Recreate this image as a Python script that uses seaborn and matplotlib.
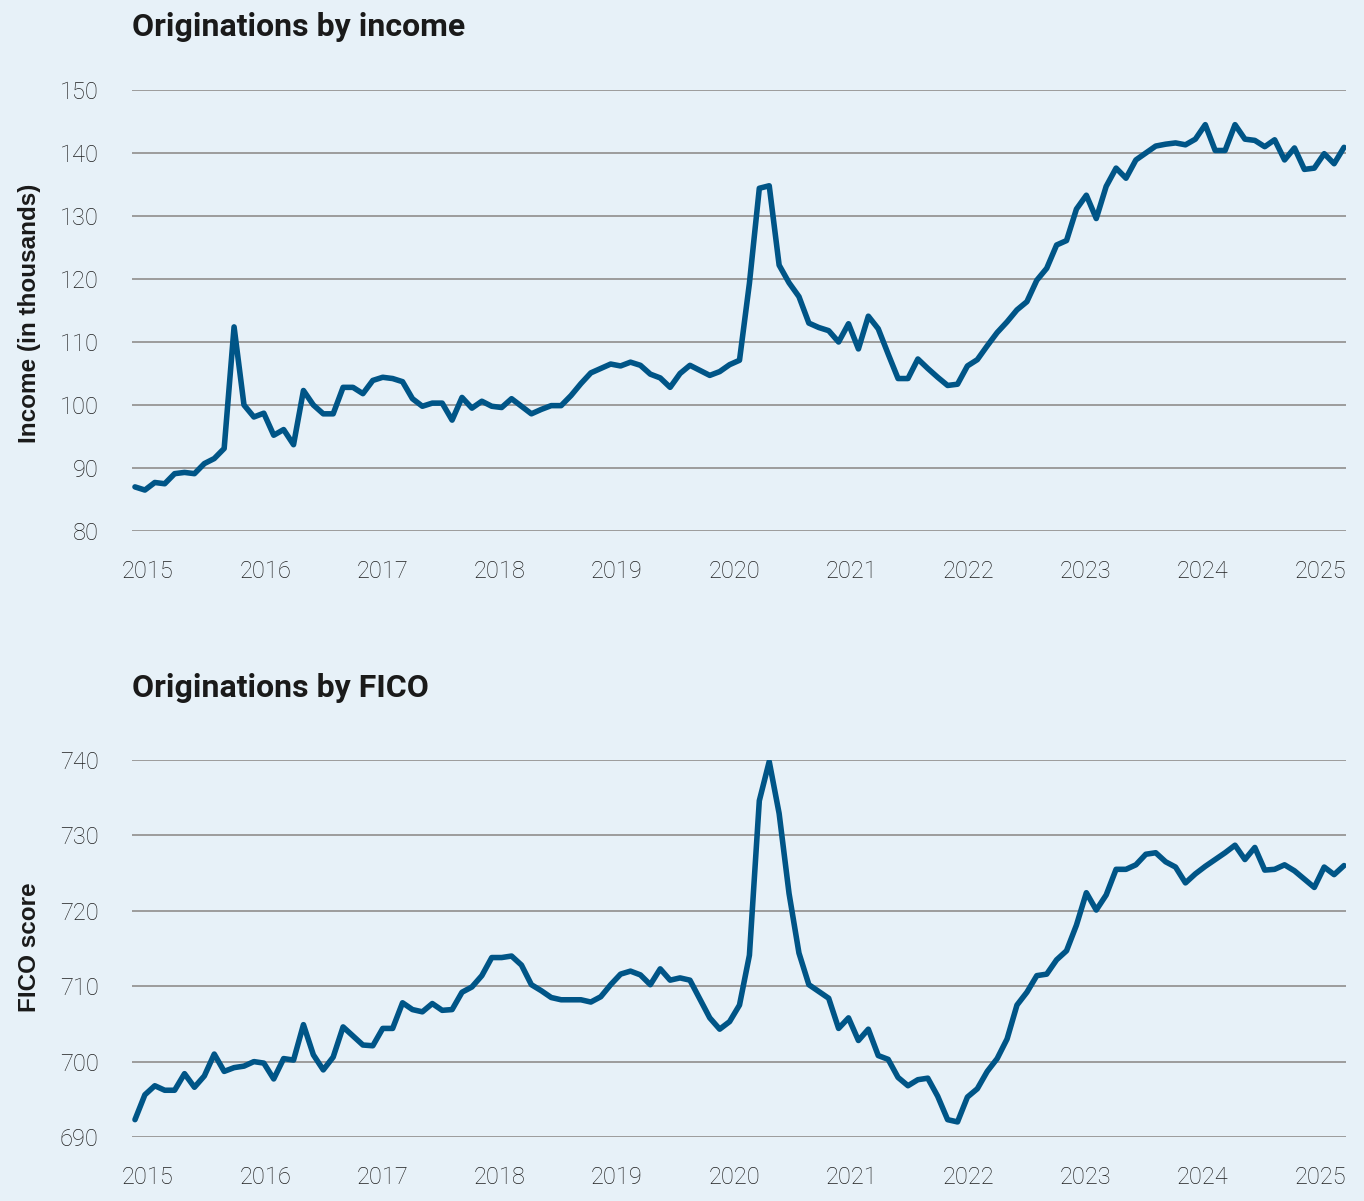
import numpy as np
import pandas as pd
import matplotlib
matplotlib.use("Agg")
import matplotlib.pyplot as plt
import seaborn as sns

# ---- data (monthly, Jan 2015 - Mar 2025) ----
income = [87.0, 86.5, 87.7, 87.5, 89.1, 89.3, 89.1, 90.7, 91.5, 93.1,
          112.4, 100.0, 98.1, 98.7, 95.2, 96.1, 93.7, 102.3, 100.0, 98.6,
          98.6, 102.8, 102.8, 101.8, 103.9, 104.4, 104.2, 103.7, 101.0, 99.8,
          100.3, 100.3, 97.6, 101.2, 99.5, 100.6, 99.8, 99.6, 101.0, 99.8,
          98.6, 99.3, 99.9, 99.9, 101.5, 103.4, 105.1, 105.8, 106.5, 106.2,
          106.8, 106.3, 104.9, 104.3, 102.8, 105.0, 106.3, 105.5, 104.7, 105.3,
          106.4, 107.1, 119.3, 134.4, 134.8, 122.2, 119.4, 117.2, 113.0, 112.3,
          111.8, 110.0, 112.9, 108.9, 114.1, 112.1, 108.1, 104.2, 104.2, 107.3,
          105.8, 104.4, 103.1, 103.3, 106.2, 107.2, 109.4, 111.5, 113.2, 115.1,
          116.4, 119.8, 121.7, 125.4, 126.1, 131.1, 133.3, 129.6, 134.7, 137.6,
          136.0, 138.9, 140.0, 141.1, 141.4, 141.6, 141.3, 142.2, 144.5, 140.4,
          140.4, 144.5, 142.2, 142.0, 141.0, 142.1, 138.9, 140.8, 137.4, 137.6,
          139.9, 138.3, 140.9]

fico = [692.3, 695.6, 696.8, 696.2, 696.2, 698.4, 696.6, 698.1, 701.0, 698.7,
        699.2, 699.4, 700.0, 699.8, 697.7, 700.4, 700.2, 704.9, 700.9, 698.9,
        700.6, 704.6, 703.4, 702.2, 702.1, 704.4, 704.4, 707.8, 706.9, 706.6,
        707.7, 706.8, 706.9, 709.2, 709.9, 711.4, 713.8, 713.8, 714.0, 712.8,
        710.2, 709.4, 708.5, 708.2, 708.2, 708.2, 707.9, 708.6, 710.2, 711.6,
        712.0, 711.5, 710.2, 712.3, 710.8, 711.1, 710.8, 708.3, 705.8, 704.3,
        705.3, 707.5, 714.1, 734.6, 739.8, 732.9, 722.3, 714.4, 710.2, 709.3,
        708.4, 704.4, 705.8, 702.8, 704.3, 700.8, 700.3, 697.9, 696.8, 697.6,
        697.8, 695.4, 692.3, 692.0, 695.3, 696.4, 698.7, 700.4, 703.0, 707.5,
        709.2, 711.4, 711.6, 713.5, 714.7, 718.1, 722.4, 720.1, 722.1, 725.5,
        725.5, 726.1, 727.5, 727.7, 726.5, 725.8, 723.7, 724.9, 725.9, 726.8,
        727.7, 728.7, 726.8, 728.4, 725.4, 725.5, 726.1, 725.3, 724.2, 723.1,
        725.8, 724.8, 726.0]

year_labels = ["2015", "2016", "2017", "2018", "2019", "2020",
               "2021", "2022", "2023", "2024", "2025"]
income_ticks = [80, 90, 100, 110, 120, 130, 140, 150]
fico_ticks = [690, 700, 710, 720, 730, 740]

titles = ["Originations by income", "Originations by FICO"]
ylabels = ["Income (in thousands)", "FICO score"]

df = pd.DataFrame({"month": np.arange(len(income)), "income": income, "fico": fico})

# ---- style ----
BG = "#E7F1F8"
LINE = "#005587"
GRID = "#9c9c9c"
TXT = "#1f1f1f"

sns.set_theme(style="white")
plt.rcParams["font.family"] = ["Roboto", "DejaVu Sans"]

fig = plt.figure(figsize=(13.64, 12.01), dpi=100, facecolor=BG)
ax1 = fig.add_axes([132 / 1364, 1 - 531 / 1201, 1214 / 1364, 441 / 1201])
ax2 = fig.add_axes([132 / 1364, 1 - 1137 / 1201, 1214 / 1364, 377 / 1201])

xtick_pos = np.linspace(1.3, 119.6, len(year_labels))

for ax, col, yt, title, ylab in [(ax1, "income", income_ticks, titles[0], ylabels[0]),
                                 (ax2, "fico", fico_ticks, titles[1], ylabels[1])]:
    ax.set_facecolor(BG)
    sns.lineplot(data=df, x="month", y=col, ax=ax, color=LINE, linewidth=4.0,
                 zorder=3)
    ax.set_ylim(yt[0], yt[-1])
    ax.set_yticks(yt)
    ax.set_yticklabels([str(v) for v in yt])
    ax.set_xlim(-0.3, 122.2)
    ax.set_xticks(xtick_pos)
    ax.set_xticklabels(year_labels)
    ax.yaxis.grid(True, color=GRID, linewidth=1.4, zorder=1)
    ax.xaxis.grid(False)
    for s in ax.spines.values():
        s.set_visible(False)
    ax.tick_params(axis="both", length=0, labelsize=17, labelcolor=TXT)
    ax.tick_params(axis="x", pad=21)
    ax.tick_params(axis="y", pad=24)
    for lab in ax.get_xticklabels() + ax.get_yticklabels():
        lab.set_fontweight("light")
    ax.set_xlabel("")
    ax.set_ylabel("")

fig.text(132 / 1364, 1 - 27 / 1201, titles[0], ha="left", va="center",
         fontsize=23, fontweight="bold", color="#1a1a1a")
fig.text(132 / 1364, 1 - 688 / 1201, titles[1], ha="left", va="center",
         fontsize=23, fontweight="bold", color="#1a1a1a")
fig.text(30 / 1364, 1 - 313 / 1201, ylabels[0], rotation=90, ha="center", va="center",
         fontsize=17.5, fontweight="bold", color="#1a1a1a",
         family=["Liberation Sans", "DejaVu Sans"])
fig.text(30 / 1364, 1 - 947 / 1201, ylabels[1], rotation=90, ha="center", va="center",
         fontsize=17.5, fontweight="bold", color="#1a1a1a",
         family=["Liberation Sans", "DejaVu Sans"])

fig.savefig("out.png", dpi=100, facecolor=BG)
